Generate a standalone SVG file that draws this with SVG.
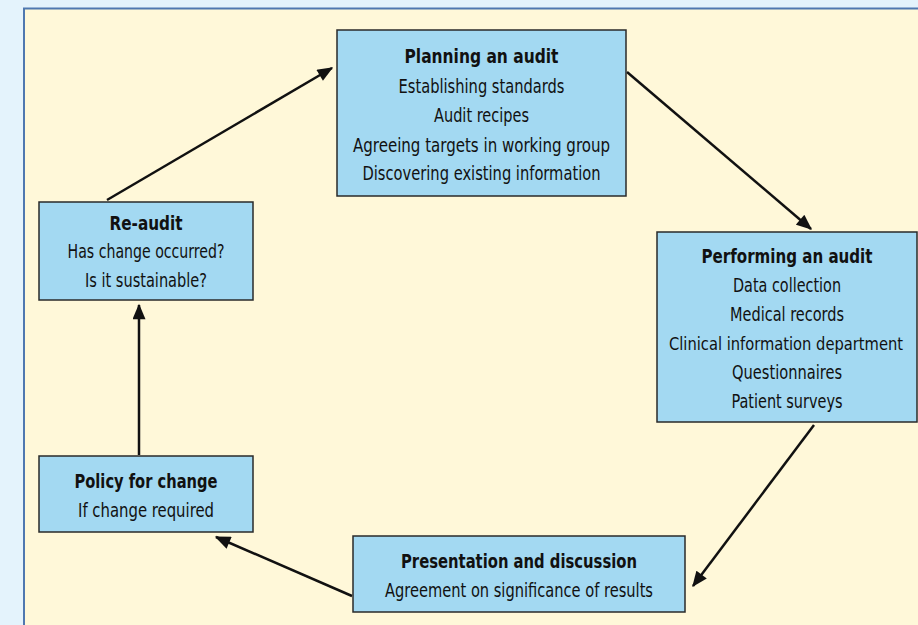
<svg xmlns="http://www.w3.org/2000/svg" width="918" height="625" viewBox="0 0 918 625">
<defs>
<style>
.box{fill:#a3d9f2;stroke:#2a2a2a;stroke-width:1.5}
text{font-family:"Liberation Sans Narrow","DejaVu Sans Condensed","Liberation Sans",sans-serif;font-stretch:condensed;font-size:20px;fill:#111;text-anchor:middle}
.t{font-weight:bold}
.c{stroke:#111;stroke-width:2.5;fill:none;marker-end:url(#ah)}
</style>
<marker id="ah" viewBox="0 0 12 10" refX="11" refY="5" markerWidth="6.6" markerHeight="5.2" orient="auto" markerUnits="strokeWidth">
<path d="M0,0 L12,5 L0,10 Z" fill="#111"/>
</marker>
</defs>
<rect width="918" height="625" fill="#e4f3fc"/>
<rect x="24" y="8.5" width="900" height="625" fill="#fff8d9" stroke="#4f78b0" stroke-width="2"/>
<g id="connectors">
<line class="c" x1="107" y1="200" x2="332" y2="68"/>
<line class="c" x1="627" y1="72" x2="811" y2="229"/>
<line class="c" x1="814" y1="425" x2="693" y2="586"/>
<line class="c" x1="352" y1="596" x2="216" y2="537"/>
<line class="c" x1="139" y1="455" x2="139" y2="305"/>
</g>
<g id="planning">
<rect class="box" x="337" y="30" width="289" height="166"/>
<text class="t" x="481.5" y="63" textLength="154" lengthAdjust="spacingAndGlyphs">Planning an audit</text>
<text x="481.5" y="93" textLength="166" lengthAdjust="spacingAndGlyphs">Establishing standards</text>
<text x="481.5" y="122" textLength="95" lengthAdjust="spacingAndGlyphs">Audit recipes</text>
<text x="481.5" y="152" textLength="257" lengthAdjust="spacingAndGlyphs">Agreeing targets in working group</text>
<text x="481.5" y="180" textLength="238" lengthAdjust="spacingAndGlyphs">Discovering existing information</text>
</g>
<g id="performing">
<rect class="box" x="657" y="232" width="260" height="190"/>
<text class="t" x="787" y="263" textLength="171" lengthAdjust="spacingAndGlyphs">Performing an audit</text>
<text x="787" y="292" textLength="108" lengthAdjust="spacingAndGlyphs">Data collection</text>
<text x="787" y="321" textLength="114" lengthAdjust="spacingAndGlyphs">Medical records</text>
<text x="786" y="350" style="font-size:18px" textLength="234" lengthAdjust="spacingAndGlyphs">Clinical information department</text>
<text x="787" y="379" textLength="110" lengthAdjust="spacingAndGlyphs">Questionnaires</text>
<text x="787" y="408" textLength="111" lengthAdjust="spacingAndGlyphs">Patient surveys</text>
</g>
<g id="presentation">
<rect class="box" x="353" y="536" width="332" height="76"/>
<text class="t" x="519" y="568" textLength="236" lengthAdjust="spacingAndGlyphs">Presentation and discussion</text>
<text x="519" y="597" textLength="268" lengthAdjust="spacingAndGlyphs">Agreement on significance of results</text>
</g>
<g id="policy">
<rect class="box" x="39" y="456" width="214" height="76"/>
<text class="t" x="146" y="488" textLength="143" lengthAdjust="spacingAndGlyphs">Policy for change</text>
<text x="146" y="517" textLength="136" lengthAdjust="spacingAndGlyphs">If change required</text>
</g>
<g id="reaudit">
<rect class="box" x="39" y="202" width="214" height="98"/>
<text class="t" x="146" y="230" textLength="73" lengthAdjust="spacingAndGlyphs">Re-audit</text>
<text x="146" y="258" textLength="157" lengthAdjust="spacingAndGlyphs">Has change occurred?</text>
<text x="146" y="287" textLength="122" lengthAdjust="spacingAndGlyphs">Is it sustainable?</text>
</g>
</svg>
